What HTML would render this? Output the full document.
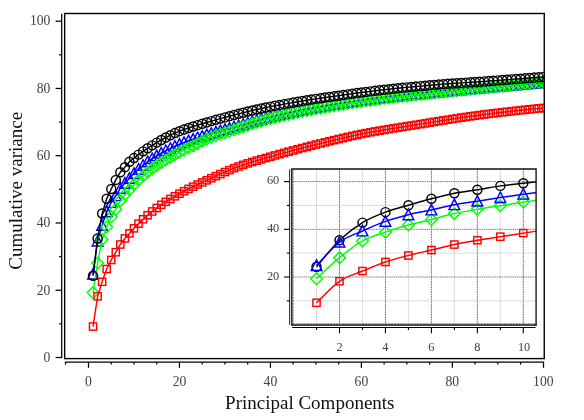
<!DOCTYPE html>
<html><head><meta charset="utf-8"><title>Cumulative variance</title>
<style>html,body{margin:0;padding:0;background:#fff;overflow:hidden}body{width:584px;height:420px;font-family:"Liberation Serif",serif}svg text{font-family:"Liberation Serif",serif}</style>
</head><body>
<svg width="584" height="420" viewBox="0 0 584 420" style="display:block;will-change:transform;opacity:0.999">
<rect width="584" height="420" fill="#fff"/>
<defs><clipPath id="cm"><rect x="64.65" y="13.5" width="479.6" height="345.1"/></clipPath><clipPath id="ci"><rect x="292.5" y="168.7" width="243.6" height="155.6"/></clipPath></defs>
<g clip-path="url(#cm)">
<g stroke="#00f" stroke-width="1.45" fill="none" stroke-linejoin="miter"><path d="M93.05 274.10L97.60 241.14L102.14 225.33L106.69 211.88L111.24 202.47L115.79 195.74L120.34 188.34L124.88 183.30L129.43 178.25L133.98 173.54L138.53 169.25L143.08 165.33L147.62 161.77L152.17 158.58L156.72 155.70L161.27 153.06L165.82 150.62L170.36 148.36L174.91 146.25L179.46 144.29L184.01 142.46L188.56 140.76L193.10 139.17L197.65 137.64L202.20 136.18L206.75 134.75L211.30 133.36L215.84 132.00L220.39 130.70L224.94 129.42L229.49 128.16L234.04 126.91L238.58 125.64L243.13 124.33L247.68 122.99L252.23 121.65L256.78 120.33L261.32 119.05L265.87 117.84L270.42 116.71L274.97 115.64L279.52 114.61L284.06 113.60L288.61 112.63L293.16 111.69L297.71 110.78L302.26 109.89L306.80 109.03L311.35 108.20L315.90 107.39L320.45 106.60L325.00 105.83L329.54 105.09L334.09 104.36L338.64 103.66L343.19 102.97L347.74 102.30L352.28 101.65L356.83 101.02L361.38 100.40L365.93 99.80L370.48 99.22L375.02 98.66L379.57 98.12L384.12 97.60L388.67 97.08L393.22 96.58L397.76 96.09L402.31 95.61L406.86 95.14L411.41 94.67L415.96 94.22L420.50 93.76L425.05 93.31L429.60 92.86L434.15 92.42L438.70 91.97L443.24 91.53L447.79 91.09L452.34 90.65L456.89 90.20L461.44 89.77L465.98 89.33L470.53 88.90L475.08 88.47L479.63 88.05L484.18 87.62L488.72 87.20L493.27 86.79L497.82 86.38L502.37 85.97L506.92 85.56L511.46 85.15L516.01 84.75L520.56 84.35L525.11 83.96L529.66 83.57L534.20 83.18L538.75 82.79L543.30 82.41"/><path d="M93.05 268.50L98.40 279.00L87.70 279.00Z"/><path d="M97.60 235.54L102.95 246.04L92.25 246.04Z"/><path d="M102.14 219.73L107.49 230.23L96.79 230.23Z"/><path d="M106.69 206.28L112.04 216.78L101.34 216.78Z"/><path d="M111.24 196.87L116.59 207.37L105.89 207.37Z"/><path d="M115.79 190.14L121.14 200.64L110.44 200.64Z"/><path d="M120.34 182.74L125.69 193.24L114.99 193.24Z"/><path d="M124.88 177.70L130.23 188.20L119.53 188.20Z"/><path d="M129.43 172.65L134.78 183.15L124.08 183.15Z"/><path d="M133.98 167.94L139.33 178.44L128.63 178.44Z"/><path d="M138.53 163.65L143.88 174.15L133.18 174.15Z"/><path d="M143.08 159.73L148.43 170.23L137.73 170.23Z"/><path d="M147.62 156.17L152.97 166.67L142.27 166.67Z"/><path d="M152.17 152.98L157.52 163.48L146.82 163.48Z"/><path d="M156.72 150.10L162.07 160.60L151.37 160.60Z"/><path d="M161.27 147.46L166.62 157.96L155.92 157.96Z"/><path d="M165.82 145.02L171.17 155.52L160.47 155.52Z"/><path d="M170.36 142.76L175.71 153.26L165.01 153.26Z"/><path d="M174.91 140.65L180.26 151.15L169.56 151.15Z"/><path d="M179.46 138.69L184.81 149.19L174.11 149.19Z"/><path d="M184.01 136.86L189.36 147.36L178.66 147.36Z"/><path d="M188.56 135.16L193.91 145.66L183.21 145.66Z"/><path d="M193.10 133.57L198.45 144.07L187.75 144.07Z"/><path d="M197.65 132.04L203.00 142.54L192.30 142.54Z"/><path d="M202.20 130.58L207.55 141.08L196.85 141.08Z"/><path d="M206.75 129.15L212.10 139.65L201.40 139.65Z"/><path d="M211.30 127.76L216.65 138.26L205.95 138.26Z"/><path d="M215.84 126.40L221.19 136.90L210.49 136.90Z"/><path d="M220.39 125.10L225.74 135.60L215.04 135.60Z"/><path d="M224.94 123.82L230.29 134.32L219.59 134.32Z"/><path d="M229.49 122.56L234.84 133.06L224.14 133.06Z"/><path d="M234.04 121.31L239.39 131.81L228.69 131.81Z"/><path d="M238.58 120.04L243.93 130.54L233.23 130.54Z"/><path d="M243.13 118.73L248.48 129.23L237.78 129.23Z"/><path d="M247.68 117.39L253.03 127.89L242.33 127.89Z"/><path d="M252.23 116.05L257.58 126.55L246.88 126.55Z"/><path d="M256.78 114.73L262.13 125.23L251.43 125.23Z"/><path d="M261.32 113.45L266.67 123.95L255.97 123.95Z"/><path d="M265.87 112.24L271.22 122.74L260.52 122.74Z"/><path d="M270.42 111.11L275.77 121.61L265.07 121.61Z"/><path d="M274.97 110.04L280.32 120.54L269.62 120.54Z"/><path d="M279.52 109.01L284.87 119.51L274.17 119.51Z"/><path d="M284.06 108.00L289.41 118.50L278.71 118.50Z"/><path d="M288.61 107.03L293.96 117.53L283.26 117.53Z"/><path d="M293.16 106.09L298.51 116.59L287.81 116.59Z"/><path d="M297.71 105.18L303.06 115.68L292.36 115.68Z"/><path d="M302.26 104.29L307.61 114.79L296.91 114.79Z"/><path d="M306.80 103.43L312.15 113.93L301.45 113.93Z"/><path d="M311.35 102.60L316.70 113.10L306.00 113.10Z"/><path d="M315.90 101.79L321.25 112.29L310.55 112.29Z"/><path d="M320.45 101.00L325.80 111.50L315.10 111.50Z"/><path d="M325.00 100.23L330.35 110.73L319.65 110.73Z"/><path d="M329.54 99.49L334.89 109.99L324.19 109.99Z"/><path d="M334.09 98.76L339.44 109.26L328.74 109.26Z"/><path d="M338.64 98.06L343.99 108.56L333.29 108.56Z"/><path d="M343.19 97.37L348.54 107.87L337.84 107.87Z"/><path d="M347.74 96.70L353.09 107.20L342.39 107.20Z"/><path d="M352.28 96.05L357.63 106.55L346.93 106.55Z"/><path d="M356.83 95.42L362.18 105.92L351.48 105.92Z"/><path d="M361.38 94.80L366.73 105.30L356.03 105.30Z"/><path d="M365.93 94.20L371.28 104.70L360.58 104.70Z"/><path d="M370.48 93.62L375.83 104.12L365.13 104.12Z"/><path d="M375.02 93.06L380.37 103.56L369.67 103.56Z"/><path d="M379.57 92.52L384.92 103.02L374.22 103.02Z"/><path d="M384.12 92.00L389.47 102.50L378.77 102.50Z"/><path d="M388.67 91.48L394.02 101.98L383.32 101.98Z"/><path d="M393.22 90.98L398.57 101.48L387.87 101.48Z"/><path d="M397.76 90.49L403.11 100.99L392.41 100.99Z"/><path d="M402.31 90.01L407.66 100.51L396.96 100.51Z"/><path d="M406.86 89.54L412.21 100.04L401.51 100.04Z"/><path d="M411.41 89.07L416.76 99.57L406.06 99.57Z"/><path d="M415.96 88.62L421.31 99.12L410.61 99.12Z"/><path d="M420.50 88.16L425.85 98.66L415.15 98.66Z"/><path d="M425.05 87.71L430.40 98.21L419.70 98.21Z"/><path d="M429.60 87.26L434.95 97.76L424.25 97.76Z"/><path d="M434.15 86.82L439.50 97.32L428.80 97.32Z"/><path d="M438.70 86.37L444.05 96.87L433.35 96.87Z"/><path d="M443.24 85.93L448.59 96.43L437.89 96.43Z"/><path d="M447.79 85.49L453.14 95.99L442.44 95.99Z"/><path d="M452.34 85.05L457.69 95.55L446.99 95.55Z"/><path d="M456.89 84.60L462.24 95.10L451.54 95.10Z"/><path d="M461.44 84.17L466.79 94.67L456.09 94.67Z"/><path d="M465.98 83.73L471.33 94.23L460.63 94.23Z"/><path d="M470.53 83.30L475.88 93.80L465.18 93.80Z"/><path d="M475.08 82.87L480.43 93.37L469.73 93.37Z"/><path d="M479.63 82.45L484.98 92.95L474.28 92.95Z"/><path d="M484.18 82.02L489.53 92.52L478.83 92.52Z"/><path d="M488.72 81.60L494.07 92.10L483.37 92.10Z"/><path d="M493.27 81.19L498.62 91.69L487.92 91.69Z"/><path d="M497.82 80.78L503.17 91.28L492.47 91.28Z"/><path d="M502.37 80.37L507.72 90.87L497.02 90.87Z"/><path d="M506.92 79.96L512.27 90.46L501.57 90.46Z"/><path d="M511.46 79.55L516.81 90.05L506.11 90.05Z"/><path d="M516.01 79.15L521.36 89.65L510.66 89.65Z"/><path d="M520.56 78.75L525.91 89.25L515.21 89.25Z"/><path d="M525.11 78.36L530.46 88.86L519.76 88.86Z"/><path d="M529.66 77.97L535.01 88.47L524.31 88.47Z"/><path d="M534.20 77.58L539.55 88.08L528.85 88.08Z"/><path d="M538.75 77.19L544.10 87.69L533.40 87.69Z"/><path d="M543.30 76.81L548.65 87.31L537.95 87.31Z"/></g>
<g stroke="#0f0" stroke-width="1.45" fill="none" stroke-linejoin="miter"><path d="M93.05 292.59L97.60 263.00L102.14 239.46L106.69 227.02L111.24 216.93L115.79 209.19L120.34 200.78L124.88 194.73L129.43 189.69L133.98 184.64L138.53 180.08L143.08 175.91L147.62 172.12L152.17 168.67L156.72 165.55L161.27 162.70L165.82 160.01L170.36 157.40L174.91 154.82L179.46 152.36L184.01 150.09L188.56 147.94L193.10 145.80L197.65 143.55L202.20 141.26L206.75 139.11L211.30 137.22L215.84 135.66L220.39 134.27L224.94 132.85L229.49 131.36L234.04 129.84L238.58 128.33L243.13 126.83L247.68 125.36L252.23 123.93L256.78 122.54L261.32 121.21L265.87 119.94L270.42 118.73L274.97 117.57L279.52 116.45L284.06 115.37L288.61 114.34L293.16 113.35L297.71 112.41L302.26 111.51L306.80 110.64L311.35 109.80L315.90 108.97L320.45 108.16L325.00 107.36L329.54 106.58L334.09 105.81L338.64 105.06L343.19 104.32L347.74 103.61L352.28 102.91L356.83 102.23L361.38 101.58L365.93 100.94L370.48 100.31L375.02 99.70L379.57 99.11L384.12 98.53L388.67 97.96L393.22 97.41L397.76 96.87L402.31 96.34L406.86 95.83L411.41 95.32L415.96 94.83L420.50 94.35L425.05 93.87L429.60 93.41L434.15 92.95L438.70 92.50L443.24 92.05L447.79 91.60L452.34 91.15L456.89 90.70L461.44 90.25L465.98 89.81L470.53 89.37L475.08 88.93L479.63 88.48L484.18 88.04L488.72 87.59L493.27 87.14L497.82 86.68L502.37 86.21L506.92 85.73L511.46 85.25L516.01 84.76L520.56 84.26L525.11 83.76L529.66 83.26L534.20 82.75L538.75 82.25L543.30 81.73"/><path d="M93.05 286.79L98.85 292.59L93.05 298.39L87.25 292.59Z"/><path d="M97.60 257.20L103.40 263.00L97.60 268.80L91.80 263.00Z"/><path d="M102.14 233.66L107.94 239.46L102.14 245.26L96.34 239.46Z"/><path d="M106.69 221.22L112.49 227.02L106.69 232.82L100.89 227.02Z"/><path d="M111.24 211.13L117.04 216.93L111.24 222.73L105.44 216.93Z"/><path d="M115.79 203.39L121.59 209.19L115.79 214.99L109.99 209.19Z"/><path d="M120.34 194.98L126.14 200.78L120.34 206.58L114.54 200.78Z"/><path d="M124.88 188.93L130.68 194.73L124.88 200.53L119.08 194.73Z"/><path d="M129.43 183.89L135.23 189.69L129.43 195.49L123.63 189.69Z"/><path d="M133.98 178.84L139.78 184.64L133.98 190.44L128.18 184.64Z"/><path d="M138.53 174.28L144.33 180.08L138.53 185.88L132.73 180.08Z"/><path d="M143.08 170.11L148.88 175.91L143.08 181.71L137.28 175.91Z"/><path d="M147.62 166.32L153.42 172.12L147.62 177.92L141.82 172.12Z"/><path d="M152.17 162.87L157.97 168.67L152.17 174.47L146.37 168.67Z"/><path d="M156.72 159.75L162.52 165.55L156.72 171.35L150.92 165.55Z"/><path d="M161.27 156.90L167.07 162.70L161.27 168.50L155.47 162.70Z"/><path d="M165.82 154.21L171.62 160.01L165.82 165.81L160.02 160.01Z"/><path d="M170.36 151.60L176.16 157.40L170.36 163.20L164.56 157.40Z"/><path d="M174.91 149.02L180.71 154.82L174.91 160.62L169.11 154.82Z"/><path d="M179.46 146.56L185.26 152.36L179.46 158.16L173.66 152.36Z"/><path d="M184.01 144.29L189.81 150.09L184.01 155.89L178.21 150.09Z"/><path d="M188.56 142.14L194.36 147.94L188.56 153.74L182.76 147.94Z"/><path d="M193.10 140.00L198.90 145.80L193.10 151.60L187.30 145.80Z"/><path d="M197.65 137.75L203.45 143.55L197.65 149.35L191.85 143.55Z"/><path d="M202.20 135.46L208.00 141.26L202.20 147.06L196.40 141.26Z"/><path d="M206.75 133.31L212.55 139.11L206.75 144.91L200.95 139.11Z"/><path d="M211.30 131.42L217.10 137.22L211.30 143.02L205.50 137.22Z"/><path d="M215.84 129.86L221.64 135.66L215.84 141.46L210.04 135.66Z"/><path d="M220.39 128.47L226.19 134.27L220.39 140.07L214.59 134.27Z"/><path d="M224.94 127.05L230.74 132.85L224.94 138.65L219.14 132.85Z"/><path d="M229.49 125.56L235.29 131.36L229.49 137.16L223.69 131.36Z"/><path d="M234.04 124.04L239.84 129.84L234.04 135.64L228.24 129.84Z"/><path d="M238.58 122.53L244.38 128.33L238.58 134.13L232.78 128.33Z"/><path d="M243.13 121.03L248.93 126.83L243.13 132.63L237.33 126.83Z"/><path d="M247.68 119.56L253.48 125.36L247.68 131.16L241.88 125.36Z"/><path d="M252.23 118.13L258.03 123.93L252.23 129.73L246.43 123.93Z"/><path d="M256.78 116.74L262.58 122.54L256.78 128.34L250.98 122.54Z"/><path d="M261.32 115.41L267.12 121.21L261.32 127.01L255.52 121.21Z"/><path d="M265.87 114.14L271.67 119.94L265.87 125.74L260.07 119.94Z"/><path d="M270.42 112.93L276.22 118.73L270.42 124.53L264.62 118.73Z"/><path d="M274.97 111.77L280.77 117.57L274.97 123.37L269.17 117.57Z"/><path d="M279.52 110.65L285.32 116.45L279.52 122.25L273.72 116.45Z"/><path d="M284.06 109.57L289.86 115.37L284.06 121.17L278.26 115.37Z"/><path d="M288.61 108.54L294.41 114.34L288.61 120.14L282.81 114.34Z"/><path d="M293.16 107.55L298.96 113.35L293.16 119.15L287.36 113.35Z"/><path d="M297.71 106.61L303.51 112.41L297.71 118.21L291.91 112.41Z"/><path d="M302.26 105.71L308.06 111.51L302.26 117.31L296.46 111.51Z"/><path d="M306.80 104.84L312.60 110.64L306.80 116.44L301.00 110.64Z"/><path d="M311.35 104.00L317.15 109.80L311.35 115.60L305.55 109.80Z"/><path d="M315.90 103.17L321.70 108.97L315.90 114.77L310.10 108.97Z"/><path d="M320.45 102.36L326.25 108.16L320.45 113.96L314.65 108.16Z"/><path d="M325.00 101.56L330.80 107.36L325.00 113.16L319.20 107.36Z"/><path d="M329.54 100.78L335.34 106.58L329.54 112.38L323.74 106.58Z"/><path d="M334.09 100.01L339.89 105.81L334.09 111.61L328.29 105.81Z"/><path d="M338.64 99.26L344.44 105.06L338.64 110.86L332.84 105.06Z"/><path d="M343.19 98.52L348.99 104.32L343.19 110.12L337.39 104.32Z"/><path d="M347.74 97.81L353.54 103.61L347.74 109.41L341.94 103.61Z"/><path d="M352.28 97.11L358.08 102.91L352.28 108.71L346.48 102.91Z"/><path d="M356.83 96.43L362.63 102.23L356.83 108.03L351.03 102.23Z"/><path d="M361.38 95.78L367.18 101.58L361.38 107.38L355.58 101.58Z"/><path d="M365.93 95.14L371.73 100.94L365.93 106.74L360.13 100.94Z"/><path d="M370.48 94.51L376.28 100.31L370.48 106.11L364.68 100.31Z"/><path d="M375.02 93.90L380.82 99.70L375.02 105.50L369.22 99.70Z"/><path d="M379.57 93.31L385.37 99.11L379.57 104.91L373.77 99.11Z"/><path d="M384.12 92.73L389.92 98.53L384.12 104.33L378.32 98.53Z"/><path d="M388.67 92.16L394.47 97.96L388.67 103.76L382.87 97.96Z"/><path d="M393.22 91.61L399.02 97.41L393.22 103.21L387.42 97.41Z"/><path d="M397.76 91.07L403.56 96.87L397.76 102.67L391.96 96.87Z"/><path d="M402.31 90.54L408.11 96.34L402.31 102.14L396.51 96.34Z"/><path d="M406.86 90.03L412.66 95.83L406.86 101.63L401.06 95.83Z"/><path d="M411.41 89.52L417.21 95.32L411.41 101.12L405.61 95.32Z"/><path d="M415.96 89.03L421.76 94.83L415.96 100.63L410.16 94.83Z"/><path d="M420.50 88.55L426.30 94.35L420.50 100.15L414.70 94.35Z"/><path d="M425.05 88.07L430.85 93.87L425.05 99.67L419.25 93.87Z"/><path d="M429.60 87.61L435.40 93.41L429.60 99.21L423.80 93.41Z"/><path d="M434.15 87.15L439.95 92.95L434.15 98.75L428.35 92.95Z"/><path d="M438.70 86.70L444.50 92.50L438.70 98.30L432.90 92.50Z"/><path d="M443.24 86.25L449.04 92.05L443.24 97.85L437.44 92.05Z"/><path d="M447.79 85.80L453.59 91.60L447.79 97.40L441.99 91.60Z"/><path d="M452.34 85.35L458.14 91.15L452.34 96.95L446.54 91.15Z"/><path d="M456.89 84.90L462.69 90.70L456.89 96.50L451.09 90.70Z"/><path d="M461.44 84.45L467.24 90.25L461.44 96.05L455.64 90.25Z"/><path d="M465.98 84.01L471.78 89.81L465.98 95.61L460.18 89.81Z"/><path d="M470.53 83.57L476.33 89.37L470.53 95.17L464.73 89.37Z"/><path d="M475.08 83.13L480.88 88.93L475.08 94.73L469.28 88.93Z"/><path d="M479.63 82.68L485.43 88.48L479.63 94.28L473.83 88.48Z"/><path d="M484.18 82.24L489.98 88.04L484.18 93.84L478.38 88.04Z"/><path d="M488.72 81.79L494.52 87.59L488.72 93.39L482.92 87.59Z"/><path d="M493.27 81.34L499.07 87.14L493.27 92.94L487.47 87.14Z"/><path d="M497.82 80.88L503.62 86.68L497.82 92.48L492.02 86.68Z"/><path d="M502.37 80.41L508.17 86.21L502.37 92.01L496.57 86.21Z"/><path d="M506.92 79.93L512.72 85.73L506.92 91.53L501.12 85.73Z"/><path d="M511.46 79.45L517.26 85.25L511.46 91.05L505.66 85.25Z"/><path d="M516.01 78.96L521.81 84.76L516.01 90.56L510.21 84.76Z"/><path d="M520.56 78.46L526.36 84.26L520.56 90.06L514.76 84.26Z"/><path d="M525.11 77.96L530.91 83.76L525.11 89.56L519.31 83.76Z"/><path d="M529.66 77.46L535.46 83.26L529.66 89.06L523.86 83.26Z"/><path d="M534.20 76.95L540.00 82.75L534.20 88.55L528.40 82.75Z"/><path d="M538.75 76.45L544.55 82.25L538.75 88.05L532.95 82.25Z"/><path d="M543.30 75.93L549.10 81.73L543.30 87.53L537.50 81.73Z"/></g>
<g stroke="#f00" stroke-width="1.45" fill="none" stroke-linejoin="miter"><path d="M93.05 326.56L97.60 296.29L102.14 281.83L106.69 269.05L111.24 259.97L115.79 252.24L120.34 244.50L124.88 238.45L129.43 233.41L133.98 228.36L138.53 223.65L143.08 219.28L147.62 215.23L152.17 211.48L156.72 208.01L161.27 204.81L165.82 201.81L170.36 198.99L174.91 196.30L179.46 193.72L184.01 191.26L188.56 188.92L193.10 186.68L197.65 184.50L202.20 182.38L206.75 180.30L211.30 178.25L215.84 176.19L220.39 174.11L224.94 172.06L229.49 170.08L234.04 168.21L238.58 166.47L243.13 164.87L247.68 163.38L252.23 161.98L256.78 160.63L261.32 159.32L265.87 158.02L270.42 156.73L274.97 155.44L279.52 154.16L284.06 152.91L288.61 151.67L293.16 150.45L297.71 149.25L302.26 148.07L306.80 146.89L311.35 145.74L315.90 144.59L320.45 143.46L325.00 142.35L329.54 141.26L334.09 140.17L338.64 139.09L343.19 138.01L347.74 136.96L352.28 135.94L356.83 134.96L361.38 134.03L365.93 133.14L370.48 132.29L375.02 131.48L379.57 130.68L384.12 129.92L388.67 129.17L393.22 128.43L397.76 127.70L402.31 126.98L406.86 126.26L411.41 125.55L415.96 124.83L420.50 124.11L425.05 123.38L429.60 122.64L434.15 121.90L438.70 121.16L443.24 120.43L447.79 119.71L452.34 118.99L456.89 118.30L461.44 117.62L465.98 116.95L470.53 116.32L475.08 115.70L479.63 115.10L484.18 114.52L488.72 113.95L493.27 113.39L497.82 112.84L502.37 112.31L506.92 111.78L511.46 111.27L516.01 110.76L520.56 110.27L525.11 109.79L529.66 109.32L534.20 108.86L538.75 108.41L543.30 107.97"/><rect x="89.45" y="322.96" width="7.2" height="7.2"/><rect x="94.00" y="292.69" width="7.2" height="7.2"/><rect x="98.54" y="278.23" width="7.2" height="7.2"/><rect x="103.09" y="265.45" width="7.2" height="7.2"/><rect x="107.64" y="256.37" width="7.2" height="7.2"/><rect x="112.19" y="248.64" width="7.2" height="7.2"/><rect x="116.74" y="240.90" width="7.2" height="7.2"/><rect x="121.28" y="234.85" width="7.2" height="7.2"/><rect x="125.83" y="229.81" width="7.2" height="7.2"/><rect x="130.38" y="224.76" width="7.2" height="7.2"/><rect x="134.93" y="220.05" width="7.2" height="7.2"/><rect x="139.48" y="215.68" width="7.2" height="7.2"/><rect x="144.02" y="211.63" width="7.2" height="7.2"/><rect x="148.57" y="207.88" width="7.2" height="7.2"/><rect x="153.12" y="204.41" width="7.2" height="7.2"/><rect x="157.67" y="201.21" width="7.2" height="7.2"/><rect x="162.22" y="198.21" width="7.2" height="7.2"/><rect x="166.76" y="195.39" width="7.2" height="7.2"/><rect x="171.31" y="192.70" width="7.2" height="7.2"/><rect x="175.86" y="190.12" width="7.2" height="7.2"/><rect x="180.41" y="187.66" width="7.2" height="7.2"/><rect x="184.96" y="185.32" width="7.2" height="7.2"/><rect x="189.50" y="183.08" width="7.2" height="7.2"/><rect x="194.05" y="180.90" width="7.2" height="7.2"/><rect x="198.60" y="178.78" width="7.2" height="7.2"/><rect x="203.15" y="176.70" width="7.2" height="7.2"/><rect x="207.70" y="174.65" width="7.2" height="7.2"/><rect x="212.24" y="172.59" width="7.2" height="7.2"/><rect x="216.79" y="170.51" width="7.2" height="7.2"/><rect x="221.34" y="168.46" width="7.2" height="7.2"/><rect x="225.89" y="166.48" width="7.2" height="7.2"/><rect x="230.44" y="164.61" width="7.2" height="7.2"/><rect x="234.98" y="162.87" width="7.2" height="7.2"/><rect x="239.53" y="161.27" width="7.2" height="7.2"/><rect x="244.08" y="159.78" width="7.2" height="7.2"/><rect x="248.63" y="158.38" width="7.2" height="7.2"/><rect x="253.18" y="157.03" width="7.2" height="7.2"/><rect x="257.72" y="155.72" width="7.2" height="7.2"/><rect x="262.27" y="154.42" width="7.2" height="7.2"/><rect x="266.82" y="153.13" width="7.2" height="7.2"/><rect x="271.37" y="151.84" width="7.2" height="7.2"/><rect x="275.92" y="150.56" width="7.2" height="7.2"/><rect x="280.46" y="149.31" width="7.2" height="7.2"/><rect x="285.01" y="148.07" width="7.2" height="7.2"/><rect x="289.56" y="146.85" width="7.2" height="7.2"/><rect x="294.11" y="145.65" width="7.2" height="7.2"/><rect x="298.66" y="144.47" width="7.2" height="7.2"/><rect x="303.20" y="143.29" width="7.2" height="7.2"/><rect x="307.75" y="142.14" width="7.2" height="7.2"/><rect x="312.30" y="140.99" width="7.2" height="7.2"/><rect x="316.85" y="139.86" width="7.2" height="7.2"/><rect x="321.40" y="138.75" width="7.2" height="7.2"/><rect x="325.94" y="137.66" width="7.2" height="7.2"/><rect x="330.49" y="136.57" width="7.2" height="7.2"/><rect x="335.04" y="135.49" width="7.2" height="7.2"/><rect x="339.59" y="134.41" width="7.2" height="7.2"/><rect x="344.14" y="133.36" width="7.2" height="7.2"/><rect x="348.68" y="132.34" width="7.2" height="7.2"/><rect x="353.23" y="131.36" width="7.2" height="7.2"/><rect x="357.78" y="130.43" width="7.2" height="7.2"/><rect x="362.33" y="129.54" width="7.2" height="7.2"/><rect x="366.88" y="128.69" width="7.2" height="7.2"/><rect x="371.42" y="127.88" width="7.2" height="7.2"/><rect x="375.97" y="127.08" width="7.2" height="7.2"/><rect x="380.52" y="126.32" width="7.2" height="7.2"/><rect x="385.07" y="125.57" width="7.2" height="7.2"/><rect x="389.62" y="124.83" width="7.2" height="7.2"/><rect x="394.16" y="124.10" width="7.2" height="7.2"/><rect x="398.71" y="123.38" width="7.2" height="7.2"/><rect x="403.26" y="122.66" width="7.2" height="7.2"/><rect x="407.81" y="121.95" width="7.2" height="7.2"/><rect x="412.36" y="121.23" width="7.2" height="7.2"/><rect x="416.90" y="120.51" width="7.2" height="7.2"/><rect x="421.45" y="119.78" width="7.2" height="7.2"/><rect x="426.00" y="119.04" width="7.2" height="7.2"/><rect x="430.55" y="118.30" width="7.2" height="7.2"/><rect x="435.10" y="117.56" width="7.2" height="7.2"/><rect x="439.64" y="116.83" width="7.2" height="7.2"/><rect x="444.19" y="116.11" width="7.2" height="7.2"/><rect x="448.74" y="115.39" width="7.2" height="7.2"/><rect x="453.29" y="114.70" width="7.2" height="7.2"/><rect x="457.84" y="114.02" width="7.2" height="7.2"/><rect x="462.38" y="113.35" width="7.2" height="7.2"/><rect x="466.93" y="112.72" width="7.2" height="7.2"/><rect x="471.48" y="112.10" width="7.2" height="7.2"/><rect x="476.03" y="111.50" width="7.2" height="7.2"/><rect x="480.58" y="110.92" width="7.2" height="7.2"/><rect x="485.12" y="110.35" width="7.2" height="7.2"/><rect x="489.67" y="109.79" width="7.2" height="7.2"/><rect x="494.22" y="109.24" width="7.2" height="7.2"/><rect x="498.77" y="108.71" width="7.2" height="7.2"/><rect x="503.32" y="108.18" width="7.2" height="7.2"/><rect x="507.86" y="107.67" width="7.2" height="7.2"/><rect x="512.41" y="107.16" width="7.2" height="7.2"/><rect x="516.96" y="106.67" width="7.2" height="7.2"/><rect x="521.51" y="106.19" width="7.2" height="7.2"/><rect x="526.06" y="105.72" width="7.2" height="7.2"/><rect x="530.60" y="105.26" width="7.2" height="7.2"/><rect x="535.15" y="104.81" width="7.2" height="7.2"/><rect x="539.70" y="104.37" width="7.2" height="7.2"/></g>
<g stroke="#000" stroke-width="1.45" fill="none" stroke-linejoin="miter"><path d="M93.05 275.78L97.60 238.45L102.14 213.56L106.69 198.77L111.24 189.01L115.79 179.93L120.34 172.20L124.88 167.15L129.43 161.77L133.98 158.07L138.53 154.61L143.08 151.35L147.62 148.26L152.17 145.35L156.72 142.60L161.27 139.99L165.82 137.50L170.36 135.21L174.91 133.09L179.46 131.17L184.01 129.48L188.56 127.95L193.10 126.51L197.65 125.13L202.20 123.77L206.75 122.43L211.30 121.12L215.84 119.84L220.39 118.60L224.94 117.38L229.49 116.18L234.04 115.00L238.58 113.83L243.13 112.69L247.68 111.59L252.23 110.51L256.78 109.48L261.32 108.48L265.87 107.53L270.42 106.62L274.97 105.76L279.52 104.93L284.06 104.14L288.61 103.36L293.16 102.58L297.71 101.82L302.26 101.06L306.80 100.31L311.35 99.59L315.90 98.89L320.45 98.22L325.00 97.57L329.54 96.95L334.09 96.32L338.64 95.69L343.19 95.04L347.74 94.38L352.28 93.73L356.83 93.09L361.38 92.50L365.93 91.93L370.48 91.37L375.02 90.83L379.57 90.30L384.12 89.78L388.67 89.28L393.22 88.79L397.76 88.31L402.31 87.84L406.86 87.39L411.41 86.95L415.96 86.52L420.50 86.10L425.05 85.69L429.60 85.29L434.15 84.91L438.70 84.53L443.24 84.17L447.79 83.83L452.34 83.51L456.89 83.20L461.44 82.90L465.98 82.60L470.53 82.30L475.08 82.00L479.63 81.70L484.18 81.38L488.72 81.06L493.27 80.73L497.82 80.39L502.37 80.05L506.92 79.71L511.46 79.36L516.01 79.01L520.56 78.66L525.11 78.30L529.66 77.94L534.20 77.58L538.75 77.22L543.30 76.86"/><circle cx="93.05" cy="275.78" r="4.5"/><circle cx="97.60" cy="238.45" r="4.5"/><circle cx="102.14" cy="213.56" r="4.5"/><circle cx="106.69" cy="198.77" r="4.5"/><circle cx="111.24" cy="189.01" r="4.5"/><circle cx="115.79" cy="179.93" r="4.5"/><circle cx="120.34" cy="172.20" r="4.5"/><circle cx="124.88" cy="167.15" r="4.5"/><circle cx="129.43" cy="161.77" r="4.5"/><circle cx="133.98" cy="158.07" r="4.5"/><circle cx="138.53" cy="154.61" r="4.5"/><circle cx="143.08" cy="151.35" r="4.5"/><circle cx="147.62" cy="148.26" r="4.5"/><circle cx="152.17" cy="145.35" r="4.5"/><circle cx="156.72" cy="142.60" r="4.5"/><circle cx="161.27" cy="139.99" r="4.5"/><circle cx="165.82" cy="137.50" r="4.5"/><circle cx="170.36" cy="135.21" r="4.5"/><circle cx="174.91" cy="133.09" r="4.5"/><circle cx="179.46" cy="131.17" r="4.5"/><circle cx="184.01" cy="129.48" r="4.5"/><circle cx="188.56" cy="127.95" r="4.5"/><circle cx="193.10" cy="126.51" r="4.5"/><circle cx="197.65" cy="125.13" r="4.5"/><circle cx="202.20" cy="123.77" r="4.5"/><circle cx="206.75" cy="122.43" r="4.5"/><circle cx="211.30" cy="121.12" r="4.5"/><circle cx="215.84" cy="119.84" r="4.5"/><circle cx="220.39" cy="118.60" r="4.5"/><circle cx="224.94" cy="117.38" r="4.5"/><circle cx="229.49" cy="116.18" r="4.5"/><circle cx="234.04" cy="115.00" r="4.5"/><circle cx="238.58" cy="113.83" r="4.5"/><circle cx="243.13" cy="112.69" r="4.5"/><circle cx="247.68" cy="111.59" r="4.5"/><circle cx="252.23" cy="110.51" r="4.5"/><circle cx="256.78" cy="109.48" r="4.5"/><circle cx="261.32" cy="108.48" r="4.5"/><circle cx="265.87" cy="107.53" r="4.5"/><circle cx="270.42" cy="106.62" r="4.5"/><circle cx="274.97" cy="105.76" r="4.5"/><circle cx="279.52" cy="104.93" r="4.5"/><circle cx="284.06" cy="104.14" r="4.5"/><circle cx="288.61" cy="103.36" r="4.5"/><circle cx="293.16" cy="102.58" r="4.5"/><circle cx="297.71" cy="101.82" r="4.5"/><circle cx="302.26" cy="101.06" r="4.5"/><circle cx="306.80" cy="100.31" r="4.5"/><circle cx="311.35" cy="99.59" r="4.5"/><circle cx="315.90" cy="98.89" r="4.5"/><circle cx="320.45" cy="98.22" r="4.5"/><circle cx="325.00" cy="97.57" r="4.5"/><circle cx="329.54" cy="96.95" r="4.5"/><circle cx="334.09" cy="96.32" r="4.5"/><circle cx="338.64" cy="95.69" r="4.5"/><circle cx="343.19" cy="95.04" r="4.5"/><circle cx="347.74" cy="94.38" r="4.5"/><circle cx="352.28" cy="93.73" r="4.5"/><circle cx="356.83" cy="93.09" r="4.5"/><circle cx="361.38" cy="92.50" r="4.5"/><circle cx="365.93" cy="91.93" r="4.5"/><circle cx="370.48" cy="91.37" r="4.5"/><circle cx="375.02" cy="90.83" r="4.5"/><circle cx="379.57" cy="90.30" r="4.5"/><circle cx="384.12" cy="89.78" r="4.5"/><circle cx="388.67" cy="89.28" r="4.5"/><circle cx="393.22" cy="88.79" r="4.5"/><circle cx="397.76" cy="88.31" r="4.5"/><circle cx="402.31" cy="87.84" r="4.5"/><circle cx="406.86" cy="87.39" r="4.5"/><circle cx="411.41" cy="86.95" r="4.5"/><circle cx="415.96" cy="86.52" r="4.5"/><circle cx="420.50" cy="86.10" r="4.5"/><circle cx="425.05" cy="85.69" r="4.5"/><circle cx="429.60" cy="85.29" r="4.5"/><circle cx="434.15" cy="84.91" r="4.5"/><circle cx="438.70" cy="84.53" r="4.5"/><circle cx="443.24" cy="84.17" r="4.5"/><circle cx="447.79" cy="83.83" r="4.5"/><circle cx="452.34" cy="83.51" r="4.5"/><circle cx="456.89" cy="83.20" r="4.5"/><circle cx="461.44" cy="82.90" r="4.5"/><circle cx="465.98" cy="82.60" r="4.5"/><circle cx="470.53" cy="82.30" r="4.5"/><circle cx="475.08" cy="82.00" r="4.5"/><circle cx="479.63" cy="81.70" r="4.5"/><circle cx="484.18" cy="81.38" r="4.5"/><circle cx="488.72" cy="81.06" r="4.5"/><circle cx="493.27" cy="80.73" r="4.5"/><circle cx="497.82" cy="80.39" r="4.5"/><circle cx="502.37" cy="80.05" r="4.5"/><circle cx="506.92" cy="79.71" r="4.5"/><circle cx="511.46" cy="79.36" r="4.5"/><circle cx="516.01" cy="79.01" r="4.5"/><circle cx="520.56" cy="78.66" r="4.5"/><circle cx="525.11" cy="78.30" r="4.5"/><circle cx="529.66" cy="77.94" r="4.5"/><circle cx="534.20" cy="77.58" r="4.5"/><circle cx="538.75" cy="77.22" r="4.5"/><circle cx="543.30" cy="76.86" r="4.5"/></g>
</g>
<rect x="64.65" y="13.5" width="479.6" height="345.1" fill="none" stroke="#000" stroke-width="1.4"/>
<g stroke="#000" stroke-width="1.25" fill="none">
<path d="M61.7 13.8V358"/>
<path d="M55.6 357.50H61.7"/>
<path d="M55.6 290.24H61.7"/>
<path d="M55.6 222.98H61.7"/>
<path d="M55.6 155.72H61.7"/>
<path d="M55.6 88.46H61.7"/>
<path d="M55.6 21.20H61.7"/>
<path d="M59.2 323.87H61.7"/>
<path d="M59.2 256.61H61.7"/>
<path d="M59.2 189.35H61.7"/>
<path d="M59.2 122.09H61.7"/>
<path d="M59.2 54.83H61.7"/>
<path d="M64.9 362.2H544.1"/>
<path d="M88.50 362.2V367.8"/>
<path d="M179.46 362.2V367.8"/>
<path d="M270.42 362.2V367.8"/>
<path d="M361.38 362.2V367.8"/>
<path d="M452.34 362.2V367.8"/>
<path d="M543.50 362.2V367.8"/>
<path d="M65.50 362.2V364.6"/>
<path d="M111.24 362.2V364.6"/>
<path d="M133.98 362.2V364.6"/>
<path d="M156.72 362.2V364.6"/>
<path d="M202.20 362.2V364.6"/>
<path d="M224.94 362.2V364.6"/>
<path d="M247.68 362.2V364.6"/>
<path d="M293.16 362.2V364.6"/>
<path d="M315.90 362.2V364.6"/>
<path d="M338.64 362.2V364.6"/>
<path d="M384.12 362.2V364.6"/>
<path d="M406.86 362.2V364.6"/>
<path d="M429.60 362.2V364.6"/>
<path d="M475.08 362.2V364.6"/>
<path d="M497.82 362.2V364.6"/>
<path d="M520.56 362.2V364.6"/>
</g>
<g font-family="Liberation Serif, serif" font-size="13.6px" fill="#404040">
<text x="50.4" y="362.40" text-anchor="end">0</text>
<text x="88.50" y="386.3" text-anchor="middle">0</text>
<text x="50.4" y="294.94" text-anchor="end">20</text>
<text x="179.46" y="386.3" text-anchor="middle">20</text>
<text x="50.4" y="227.48" text-anchor="end">40</text>
<text x="270.42" y="386.3" text-anchor="middle">40</text>
<text x="50.4" y="160.02" text-anchor="end">60</text>
<text x="361.38" y="386.3" text-anchor="middle">60</text>
<text x="50.4" y="92.56" text-anchor="end">80</text>
<text x="452.34" y="386.3" text-anchor="middle">80</text>
<text x="50.4" y="25.10" text-anchor="end">100</text>
<text x="543.30" y="386.3" text-anchor="middle">100</text>
</g>
<g font-family="Liberation Serif, serif" font-size="19px" fill="#111">
<text x="309.8" y="409" text-anchor="middle">Principal Components</text>
<text transform="translate(22.3 190.8) rotate(-90)" text-anchor="middle">Cumulative variance</text>
</g>
<rect x="283" y="166" width="256" height="190" fill="#fff"/>
<g fill="none" stroke-width="1">
<path d="M316.53 168.7V324" stroke="#cccccc" stroke-width="0.7"/>
<path d="M339.50 168.7V324" stroke="#505050" stroke-width="0.8" stroke-dasharray="1.8 0.7"/>
<path d="M362.48 168.7V324" stroke="#cccccc" stroke-width="0.7"/>
<path d="M385.45 168.7V324" stroke="#505050" stroke-width="0.8" stroke-dasharray="1.8 0.7"/>
<path d="M408.43 168.7V324" stroke="#cccccc" stroke-width="0.7"/>
<path d="M431.40 168.7V324" stroke="#505050" stroke-width="0.8" stroke-dasharray="1.8 0.7"/>
<path d="M454.38 168.7V324" stroke="#cccccc" stroke-width="0.7"/>
<path d="M477.35 168.7V324" stroke="#505050" stroke-width="0.8" stroke-dasharray="1.8 0.7"/>
<path d="M500.33 168.7V324" stroke="#cccccc" stroke-width="0.7"/>
<path d="M523.30 168.7V324" stroke="#505050" stroke-width="0.8" stroke-dasharray="1.8 0.7"/>
<path d="M292.5 300.85H535.8" stroke="#cccccc" stroke-width="0.7"/>
<path d="M292.5 277.00H535.8" stroke="#6e6e6e" stroke-width="0.95" stroke-dasharray="1.4 0.8"/>
<path d="M292.5 253.15H535.8" stroke="#cccccc" stroke-width="0.7"/>
<path d="M292.5 229.30H535.8" stroke="#6e6e6e" stroke-width="0.95" stroke-dasharray="1.4 0.8"/>
<path d="M292.5 205.45H535.8" stroke="#cccccc" stroke-width="0.7"/>
<path d="M292.5 181.60H535.8" stroke="#6e6e6e" stroke-width="0.95" stroke-dasharray="1.4 0.8"/>
</g>
<g clip-path="url(#ci)">
<g stroke="#000" stroke-width="1.45" fill="none" stroke-linejoin="miter"><path d="M316.53 266.74C320.35 262.33 331.84 247.62 339.50 240.27C347.16 232.92 354.82 227.31 362.48 222.62C370.13 217.93 377.79 215.03 385.45 212.13C393.11 209.23 400.77 207.44 408.43 205.21C416.08 202.99 423.74 200.76 431.40 198.77C439.06 196.78 446.72 194.80 454.38 193.29C462.03 191.78 469.69 190.94 477.35 189.71C485.01 188.48 492.67 186.97 500.33 185.89C507.98 184.82 515.64 184.12 523.30 183.27C530.96 182.42 538.62 181.60 546.28 180.81C553.93 180.01 565.42 178.88 569.25 178.50"/><circle cx="316.53" cy="266.74" r="4.5"/><circle cx="339.50" cy="240.27" r="4.5"/><circle cx="362.48" cy="222.62" r="4.5"/><circle cx="385.45" cy="212.13" r="4.5"/><circle cx="408.43" cy="205.21" r="4.5"/><circle cx="431.40" cy="198.77" r="4.5"/><circle cx="454.38" cy="193.29" r="4.5"/><circle cx="477.35" cy="189.71" r="4.5"/><circle cx="500.33" cy="185.89" r="4.5"/><circle cx="523.30" cy="183.27" r="4.5"/><circle cx="546.28" cy="180.81" r="4.5"/><circle cx="569.25" cy="178.50" r="4.5"/></g>
<g stroke="#f00" stroke-width="1.45" fill="none" stroke-linejoin="miter"><path d="M316.53 302.76C320.35 299.18 331.84 286.58 339.50 281.29C347.16 276.01 354.82 274.26 362.48 271.04C370.13 267.82 377.79 264.56 385.45 261.97C393.11 259.39 400.77 257.52 408.43 255.53C416.08 253.55 423.74 251.88 431.40 250.05C439.06 248.22 446.72 246.19 454.38 244.56C462.03 242.93 469.69 241.58 477.35 240.27C485.01 238.96 492.67 237.89 500.33 236.69C507.98 235.50 515.64 234.27 523.30 233.12C530.96 231.96 538.62 230.85 546.28 229.78C553.93 228.70 565.42 227.19 569.25 226.67"/><rect x="312.93" y="299.16" width="7.2" height="7.2"/><rect x="335.90" y="277.69" width="7.2" height="7.2"/><rect x="358.88" y="267.44" width="7.2" height="7.2"/><rect x="381.85" y="258.37" width="7.2" height="7.2"/><rect x="404.82" y="251.93" width="7.2" height="7.2"/><rect x="427.80" y="246.45" width="7.2" height="7.2"/><rect x="450.77" y="240.96" width="7.2" height="7.2"/><rect x="473.75" y="236.67" width="7.2" height="7.2"/><rect x="496.73" y="233.09" width="7.2" height="7.2"/><rect x="519.70" y="229.52" width="7.2" height="7.2"/><rect x="542.68" y="226.18" width="7.2" height="7.2"/><rect x="565.65" y="223.07" width="7.2" height="7.2"/></g>
<g stroke="#0f0" stroke-width="1.45" fill="none" stroke-linejoin="miter"><path d="M316.53 278.67C320.35 275.17 331.84 263.96 339.50 257.68C347.16 251.40 354.82 245.24 362.48 240.99C370.13 236.73 377.79 234.83 385.45 232.16C393.11 229.50 400.77 227.11 408.43 225.01C416.08 222.90 423.74 221.43 431.40 219.52C439.06 217.61 446.72 215.27 454.38 213.56C462.03 211.85 469.69 210.58 477.35 209.27C485.01 207.95 492.67 206.88 500.33 205.69C507.98 204.50 515.64 203.25 523.30 202.11C530.96 200.98 538.62 199.91 546.28 198.87C553.93 197.84 565.42 196.41 569.25 195.92"/><path d="M316.53 272.87L322.33 278.67L316.53 284.47L310.73 278.67Z"/><path d="M339.50 251.88L345.30 257.68L339.50 263.48L333.70 257.68Z"/><path d="M362.48 235.19L368.28 240.99L362.48 246.79L356.68 240.99Z"/><path d="M385.45 226.36L391.25 232.16L385.45 237.96L379.65 232.16Z"/><path d="M408.43 219.21L414.23 225.01L408.43 230.81L402.62 225.01Z"/><path d="M431.40 213.72L437.20 219.52L431.40 225.32L425.60 219.52Z"/><path d="M454.38 207.76L460.18 213.56L454.38 219.36L448.57 213.56Z"/><path d="M477.35 203.47L483.15 209.27L477.35 215.07L471.55 209.27Z"/><path d="M500.33 199.89L506.13 205.69L500.33 211.49L494.53 205.69Z"/><path d="M523.30 196.31L529.10 202.11L523.30 207.91L517.50 202.11Z"/><path d="M546.28 193.07L552.08 198.87L546.28 204.67L540.48 198.87Z"/><path d="M569.25 190.12L575.05 195.92L569.25 201.72L563.45 195.92Z"/></g>
<g stroke="#00f" stroke-width="1.45" fill="none" stroke-linejoin="miter"><path d="M316.53 265.55C320.35 261.66 331.84 247.94 339.50 242.18C347.16 236.42 354.82 234.43 362.48 230.97C370.13 227.51 377.79 224.13 385.45 221.43C393.11 218.73 400.77 216.66 408.43 214.75C416.08 212.84 423.74 211.65 431.40 209.98C439.06 208.31 446.72 206.21 454.38 204.73C462.03 203.26 469.69 202.35 477.35 201.16C485.01 199.96 492.67 198.73 500.33 197.58C507.98 196.43 515.64 195.30 523.30 194.24C530.96 193.18 538.62 192.17 546.28 191.20C553.93 190.23 565.42 188.88 569.25 188.41"/><path d="M316.53 259.95L321.88 270.45L311.18 270.45Z"/><path d="M339.50 236.58L344.85 247.08L334.15 247.08Z"/><path d="M362.48 225.37L367.83 235.87L357.12 235.87Z"/><path d="M385.45 215.83L390.80 226.33L380.10 226.33Z"/><path d="M408.43 209.15L413.78 219.65L403.07 219.65Z"/><path d="M431.40 204.38L436.75 214.88L426.05 214.88Z"/><path d="M454.38 199.13L459.73 209.63L449.02 209.63Z"/><path d="M477.35 195.56L482.70 206.06L472.00 206.06Z"/><path d="M500.33 191.98L505.68 202.48L494.98 202.48Z"/><path d="M523.30 188.64L528.65 199.14L517.95 199.14Z"/><path d="M546.28 185.60L551.63 196.10L540.93 196.10Z"/><path d="M569.25 182.81L574.60 193.31L563.90 193.31Z"/></g>
</g>
<path d="M291.8 325.3V168.95H536.1V325.3" fill="none" stroke="#111" stroke-width="1.35"/>
<path d="M291.1 324.95H536.8" fill="none" stroke="#111" stroke-width="1.4"/>
<path d="M293.0 169.6V324" fill="none" stroke="#555" stroke-width="1.0" stroke-dasharray="2 0.9"/>
<path d="M292.5 323.85H535.4" fill="none" stroke="#555" stroke-width="0.9" stroke-dasharray="2 0.9"/>
<g stroke="#000" stroke-width="1.1" fill="none">
<path d="M289.65 169.3V324.7" stroke-width="0.9"/>
<path d="M292.1 327.5H535.5" stroke-width="1"/>
<path d="M284 277.00H289.6"/>
<path d="M284 229.30H289.6"/>
<path d="M284 181.60H289.6"/>
<path d="M286.8 300.85H289.6"/>
<path d="M286.8 253.15H289.6"/>
<path d="M286.8 205.45H289.6"/>
<path d="M316.53 327.5V330"/>
<path d="M339.50 327.5V333.2"/>
<path d="M362.48 327.5V330"/>
<path d="M385.45 327.5V333.2"/>
<path d="M408.43 327.5V330"/>
<path d="M431.40 327.5V333.2"/>
<path d="M454.38 327.5V330"/>
<path d="M477.35 327.5V333.2"/>
<path d="M500.33 327.5V330"/>
<path d="M523.30 327.5V333.2"/>
</g>
<g font-family="Liberation Serif, serif" font-size="12.4px" fill="#404040">
<text x="279.3" y="279.60" text-anchor="end">20</text>
<text x="279.3" y="231.90" text-anchor="end">40</text>
<text x="279.3" y="184.20" text-anchor="end">60</text>
<text x="339.50" y="351.0" text-anchor="middle">2</text>
<text x="385.45" y="351.0" text-anchor="middle">4</text>
<text x="431.40" y="351.0" text-anchor="middle">6</text>
<text x="477.35" y="351.0" text-anchor="middle">8</text>
<text x="524.10" y="351.0" text-anchor="middle">10</text>
</g>
</svg>
</body></html>
